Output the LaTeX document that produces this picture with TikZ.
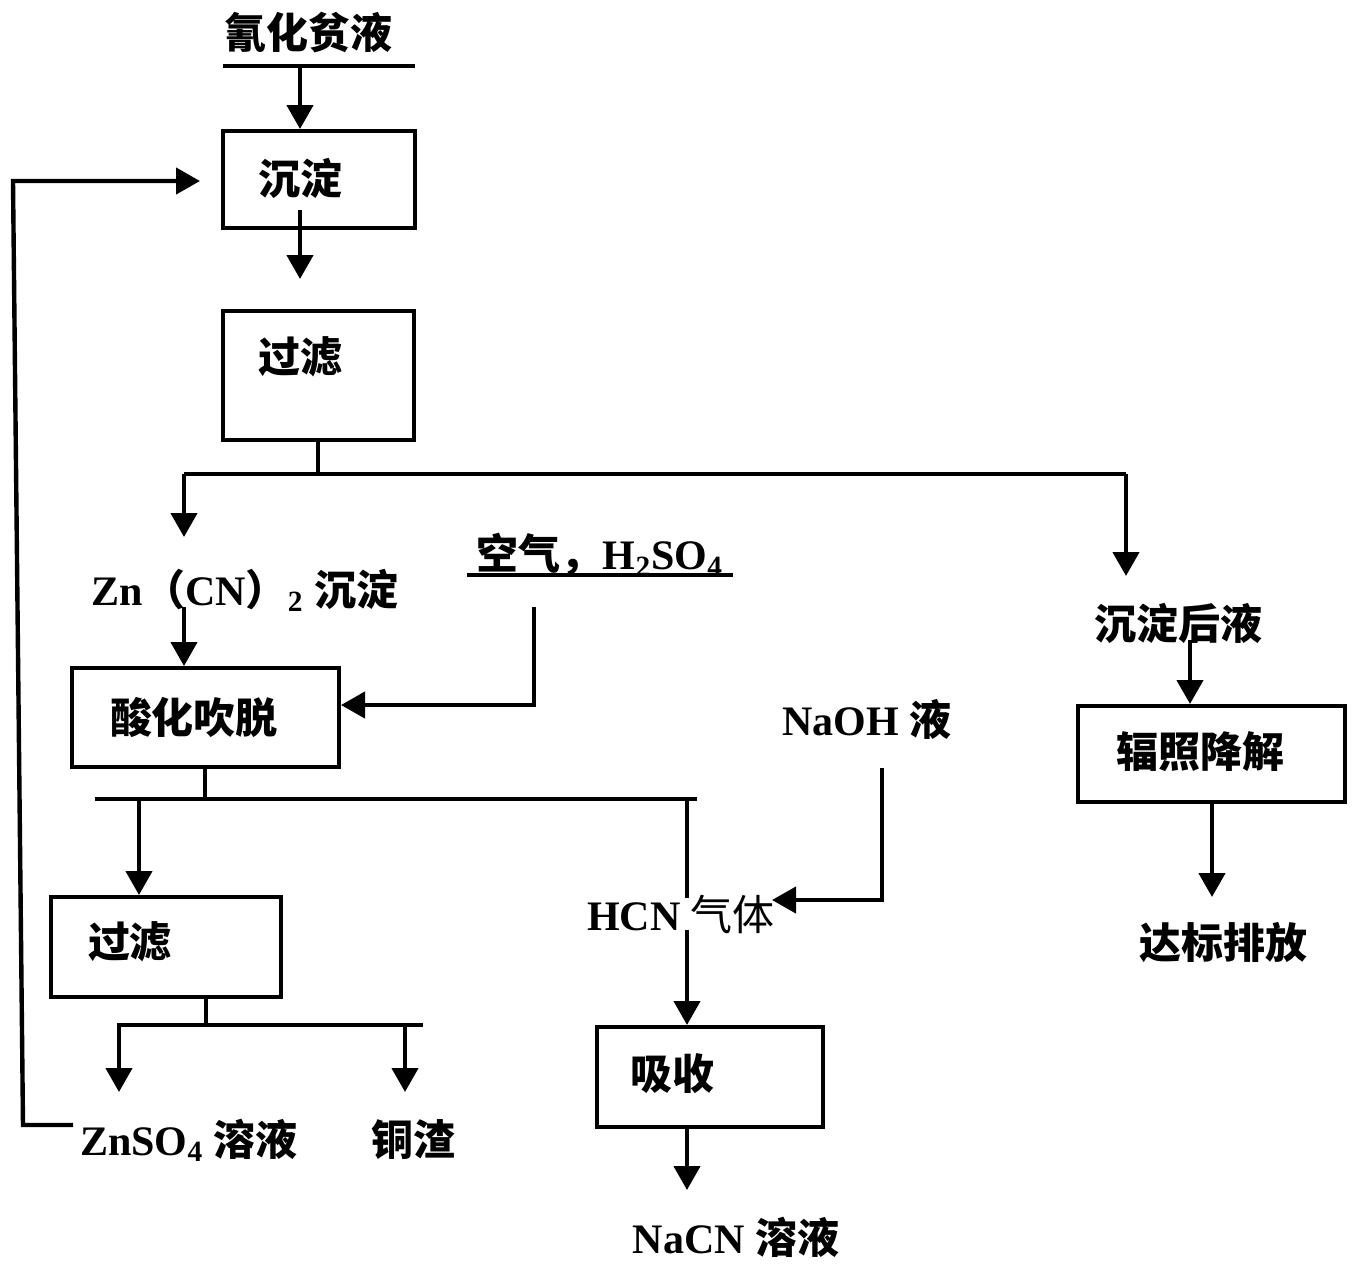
\documentclass[tikz,border=0pt]{standalone}
\usepackage{fontspec}
\setmainfont{Liberation Serif}
\newfontfamily\cjk{Noto Sans CJK SC}
\usetikzlibrary{arrows.meta}
\begin{document}
\begin{tikzpicture}[x=0.5pt,y=-0.5pt]
\tikzset{
  box/.style={draw, line width=2pt, inner sep=0pt},
  ln/.style={line width=2.2pt},
  arr/.style={ln, -{Triangle[width=13pt,length=12pt]}},
  zh/.style={font=\cjk\bfseries\fontsize{21}{24}\selectfont, inner sep=0pt},
  lt/.style={font=\bfseries\fontsize{21}{24}\selectfont, inner sep=0pt},
}
\useasboundingbox (0,0) rectangle (1362,1275);
\fill[white] (0,0) rectangle (1362,1275);

% ---- top: feed
\node[zh] (t0) at (308,33) {氰化贫液};
\coordinate (u0a) at (223,66);
\coordinate (u0b) at (415,66);
\coordinate (u0) at (300,66);
\draw[ln] (u0a) -- (u0b);

% ---- box 1
\node[box, minimum width=96pt, minimum height=48.5pt] (b1) at (319,179.5) {};
\node[zh] (b1t) at (300,178) {沉淀};
\draw[arr] (u0) -- (u0 |- b1.north);

\coordinate (a1s) at (300,210);
\coordinate (a1e) at (300,279);
\draw[arr] (a1s) -- (a1e);

% ---- box 2
\node[box, minimum width=95.5pt, minimum height=64.5pt] (b2) at (318.5,375.5) {};
\node[zh] (b2t) at (300,357) {过滤};

\coordinate (j1) at (318,474);
\coordinate (hL) at (184,474);
\coordinate (hR) at (1126,474);
\coordinate (tZn) at (184,537);
\coordinate (tR) at (1126,576);
\draw[ln] (b2.south -| j1) -- (j1);
\draw[ln] (hL) -- (hR);
\draw[arr] (hL) -- (tZn);
\draw[arr] (hR) -- (tR);

% ---- Zn(CN)2
\node[lt] (zn) at (245,590) {Zn{\cjk\bfseries （}CN{\cjk\bfseries ）}\textsubscript{2} {\cjk\bfseries 沉淀}};
\coordinate (znb) at (184,607);

% ---- box 3
\node[box, minimum width=133.5pt, minimum height=49.5pt] (b3) at (205.5,717.5) {};
\node[zh] (b3t) at (194,717) {酸化吹脱};
\draw[arr] (znb) -- (znb |- b3.north);

% ---- air, H2SO4
\node[lt] (air) at (600,555) {{\cjk\bfseries 空气，}H\textsubscript{2}SO\textsubscript{4}};
\coordinate (ua) at (467,575);
\coordinate (ub) at (733,575);
\draw[ln] (ua) -- (ub);
\coordinate (airs) at (534,607);
\coordinate (airc) at (534,705);
\draw[arr] (airs) -- (airc) -- (airc -| b3.east);

% ---- split below box 3
\coordinate (j3) at (205,799);
\coordinate (h3L) at (95,799);
\coordinate (h3R) at (697,799);
\coordinate (h3a) at (139,799);
\coordinate (h3b) at (687,799);
\coordinate (hcnT) at (687,898);
\coordinate (hcnB) at (687,930);
\draw[ln] (b3.south -| j3) -- (j3);
\draw[ln] (h3L) -- (h3R);
\draw[ln] (h3b) -- (hcnT);

% ---- box 4
\node[box, minimum width=115pt, minimum height=50pt] (b4) at (166,947) {};
\node[zh] (b4t) at (130,942) {过滤};
\draw[arr] (h3a) -- (h3a |- b4.north);

\coordinate (j4) at (206,1025);
\coordinate (h4L) at (117,1025);
\coordinate (h4R) at (423,1025);
\coordinate (h4a) at (119,1025);
\coordinate (h4b) at (405,1025);
\coordinate (t4a) at (119,1092);
\coordinate (t4b) at (405,1092);
\draw[ln] (b4.south -| j4) -- (j4);
\draw[ln] (h4L) -- (h4R);
\draw[arr] (h4a) -- (t4a);
\draw[arr] (h4b) -- (t4b);

\node[lt] (znso4) at (189,1140) {ZnSO\textsubscript{4} {\cjk\bfseries 溶液}};
\node[zh] (cu) at (413,1140) {铜渣};

% ---- recycle line
\coordinate (fb1) at (73,1125);
\coordinate (fb2) at (23,1125);
\coordinate (fb3) at (13,181);
\coordinate (fb4) at (200,181);
\draw[arr] (fb1) -- (fb2) -- (fb3) -- (fb4);

% ---- NaOH and HCN
\node[lt] (naoh) at (867,719) {NaOH {\cjk\bfseries 液}};
\coordinate (n1) at (882,768);
\coordinate (n2) at (882,900);
\coordinate (n3) at (772,900);
\draw[arr] (n1) -- (n2) -- (n3);

\node[lt] (hcn) at (681,914) {HCN {\cjk\mdseries 气体}};

% ---- box 5
\node[box, minimum width=113pt, minimum height=50pt] (b5) at (710,1077) {};
\node[zh] (b5t) at (672,1074) {吸收};
\draw[arr] (hcnB) -- (hcnB |- b5.north);
\coordinate (t5) at (687,1190);
\draw[arr] (b5.south -| t5) -- (t5);
\node[lt] (nacn) at (736,1237) {NaCN {\cjk\bfseries 溶液}};

% ---- right branch
\node[zh] (after) at (1178,623) {沉淀后液};
\coordinate (r1) at (1190,640);
\node[box, minimum width=133.5pt, minimum height=48pt] (b6) at (1211.5,754) {};
\node[zh] (b6t) at (1200,752) {辐照降解};
\draw[arr] (r1) -- (r1 |- b6.north);
\coordinate (t6) at (1212,897);
\draw[arr] (b6.south -| t6) -- (t6);
\node[zh] (out) at (1223,943) {达标排放};
\end{tikzpicture}
\end{document}
